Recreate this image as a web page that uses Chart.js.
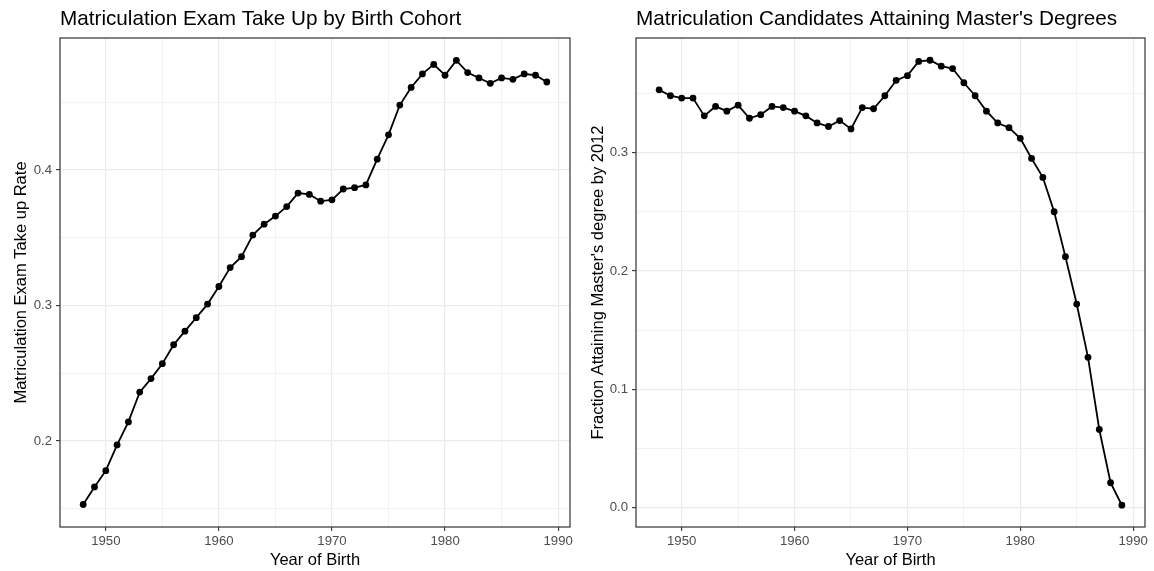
<!DOCTYPE html>
<html>
<head>
<meta charset="utf-8">
<script src="https://cdn.jsdelivr.net/npm/chart.js@4.4.1/dist/chart.umd.min.js"></script>
<style>
  body { margin: 0; background: #fff; }
  .panel { position: absolute; top: 0; }
</style>
</head>
<body>
<canvas id="takeupChart" class="panel" width="577" height="571" style="left:0"></canvas>
<canvas id="mastersChart" class="panel" width="577" height="571" style="left:577px"></canvas>
<script>
// birth cohorts
const years = [1948, 1949, 1950, 1951, 1952, 1953, 1954, 1955, 1956, 1957,
               1958, 1959, 1960, 1961, 1962, 1963, 1964, 1965, 1966, 1967,
               1968, 1969, 1970, 1971, 1972, 1973, 1974, 1975, 1976, 1977,
               1978, 1979, 1980, 1981, 1982, 1983, 1984, 1985, 1986, 1987,
               1988, 1989];

// matriculation exam take up rate
const takeupRate = [0.153, 0.166, 0.178, 0.197, 0.214, 0.236, 0.246, 0.257, 0.271, 0.281,
                    0.291, 0.301, 0.314, 0.328, 0.336, 0.352, 0.360, 0.366, 0.373, 0.383,
                    0.382, 0.377, 0.378, 0.386, 0.387, 0.389, 0.408, 0.426, 0.448, 0.461,
                    0.471, 0.478, 0.470, 0.481, 0.472, 0.468, 0.464, 0.468, 0.467, 0.471,
                    0.470, 0.465];

// fraction attaining master's degree by 2012
const mastersFraction = [0.353, 0.348, 0.346, 0.346, 0.331, 0.339, 0.335, 0.340, 0.329, 0.332,
                         0.339, 0.338, 0.335, 0.331, 0.325, 0.322, 0.327, 0.320, 0.338, 0.337,
                         0.348, 0.361, 0.365, 0.377, 0.378, 0.373, 0.371, 0.359, 0.348, 0.335,
                         0.325, 0.321, 0.312, 0.295, 0.279, 0.250, 0.212, 0.172, 0.127, 0.066,
                         0.021, 0.002];

// grid positions (majors get labels)
const xTicks = [1950, 1955, 1960, 1965, 1970, 1975, 1980, 1985, 1990];
const takeupYTicks = [0.15, 0.2, 0.25, 0.3, 0.35, 0.4, 0.45];
const mastersYTicks = [0, 0.05, 0.1, 0.15, 0.2, 0.25, 0.3, 0.35];

const FONT = '"Liberation Sans", Arial, Helvetica, sans-serif';
const isMajorX = v => v % 10 === 0;
const isMajorY = v => Math.abs(v * 10 - Math.round(v * 10)) < 1e-6;

// ggplot-style panel border around the plotting area
const panelBorder = {
    id: 'panelBorder',
    afterDraw(chart) {
        const { ctx, chartArea: a } = chart;
        ctx.save();
        ctx.strokeStyle = '#333333';
        ctx.lineWidth = 1.2;
        ctx.strokeRect(a.left, a.top, a.right - a.left, a.bottom - a.top);
        ctx.restore();
    }
};

function makePanel(id, values, cfg) {
    const points = years.map((y, i) => ({ x: y, y: values[i] }));
    return new Chart(document.getElementById(id), {
        type: 'line',
        data: {
            datasets: [{
                data: points,
                borderColor: '#000000',
                borderWidth: 1.8,
                backgroundColor: '#000000',
                pointRadius: 3.4,
                pointBorderWidth: 0,
                pointBackgroundColor: '#000000',
                tension: 0
            }]
        },
        plugins: [panelBorder],
        options: {
            responsive: false,
            animation: false,
            layout: { padding: { left: 0, right: cfg.padRight, top: 0, bottom: 0 } },
            plugins: {
                legend: { display: false },
                tooltip: { enabled: false },
                title: {
                    display: true,
                    text: cfg.title,
                    align: 'start',
                    fullSize: false,
                    color: '#000000',
                    font: { family: FONT, size: 20.7, weight: 'normal', lineHeight: '24px' },
                    padding: { top: 7, bottom: 7 }
                }
            },
            scales: {
                x: {
                    type: 'linear',
                    min: 1945.95,
                    max: 1991.05,
                    afterBuildTicks: s => { s.ticks = xTicks.map(v => ({ value: v })); },
                    afterFit: s => { s.height = 44; },
                    border: { display: false },
                    grid: {
                        color: '#EBEBEB',
                        lineWidth: c => isMajorX(c.tick.value) ? 1.2 : 0.6,
                        tickColor: c => isMajorX(c.tick.value) ? '#333333' : 'rgba(0,0,0,0)',
                        tickLength: 4,
                        tickWidth: 1.1
                    },
                    ticks: {
                        color: '#4D4D4D',
                        font: { family: FONT, size: 13.2 },
                        padding: 2,
                        maxRotation: 0,
                        autoSkip: false,
                        callback: v => isMajorX(v) ? String(v) : ''
                    },
                    title: {
                        display: true,
                        text: 'Year of Birth',
                        color: '#000000',
                        font: { family: FONT, size: 16.5 },
                        padding: { top: 1, bottom: 1 }
                    }
                },
                y: {
                    min: cfg.yMin,
                    max: cfg.yMax,
                    afterBuildTicks: s => { s.ticks = cfg.yTicks.map(v => ({ value: v })); },
                    afterFit: s => { s.width = cfg.axisWidth; },
                    border: { display: false },
                    grid: {
                        color: '#EBEBEB',
                        lineWidth: c => isMajorY(c.tick.value) ? 1.2 : 0.6,
                        tickColor: c => isMajorY(c.tick.value) ? '#333333' : 'rgba(0,0,0,0)',
                        tickLength: 4,
                        tickWidth: 1.1
                    },
                    ticks: {
                        color: '#4D4D4D',
                        font: { family: FONT, size: 13.2 },
                        padding: 4,
                        autoSkip: false,
                        callback: v => isMajorY(v) ? v.toFixed(1) : ''
                    },
                    title: {
                        display: true,
                        text: cfg.yTitle,
                        color: '#000000',
                        font: { family: FONT, size: 16.5 },
                        padding: { top: 12, bottom: 0 }
                    }
                }
            }
        }
    });
}

makePanel('takeupChart', takeupRate, {
    title: 'Matriculation Exam Take Up by Birth Cohort',
    yTitle: 'Matriculation Exam Take up Rate',
    yMin: 0.1364, yMax: 0.4975,
    yTicks: takeupYTicks,
    axisWidth: 60,
    padRight: 7
});

makePanel('mastersChart', mastersFraction, {
    title: "Matriculation Candidates Attaining Master's Degrees",
    yTitle: "Fraction Attaining Master's degree by 2012",
    yMin: -0.0164, yMax: 0.3968,
    yTicks: mastersYTicks,
    axisWidth: 59,
    padRight: 9
});
</script>
</body>
</html>
